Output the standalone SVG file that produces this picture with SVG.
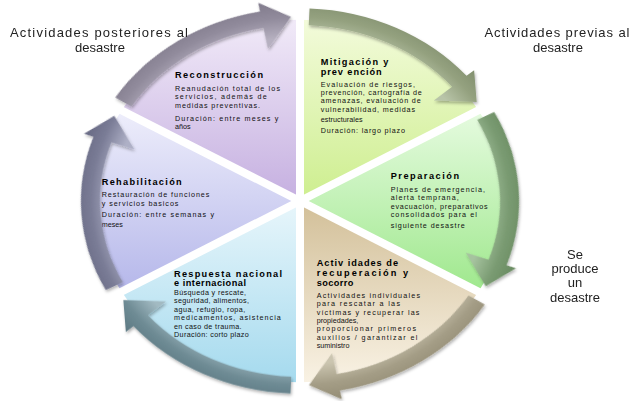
<svg xmlns="http://www.w3.org/2000/svg" xmlns:xlink="http://www.w3.org/1999/xlink" width="634" height="401" viewBox="0 0 634 401">
<style>
.t{font-family:"Liberation Sans",Arial,sans-serif;font-weight:bold;font-size:9.2px;fill:#000}
.b{font-family:"Liberation Sans",Arial,sans-serif;font-size:7.2px;fill:#111}
.o{font-family:"Liberation Sans",Arial,sans-serif;font-size:13px;fill:#222}
.gap{stroke:#fff;stroke-width:8;stroke-linecap:butt}
</style>
<defs>
<linearGradient id="gRecon" x1="0" y1="0" x2="0" y2="1"><stop offset="0" stop-color="#f1eaf8"/><stop offset="1" stop-color="#c5afe0"/></linearGradient>
<linearGradient id="gMit" x1="0" y1="0" x2="0" y2="1"><stop offset="0" stop-color="#f3fbdb"/><stop offset="1" stop-color="#cdee8e"/></linearGradient>
<linearGradient id="gPrep" x1="0" y1="0" x2="0" y2="1"><stop offset="0" stop-color="#e6fbe0"/><stop offset="1" stop-color="#9fe88d"/></linearGradient>
<linearGradient id="gAct" x1="0" y1="0" x2="0" y2="1"><stop offset="0" stop-color="#d2bf98"/><stop offset="1" stop-color="#f9f2e4"/></linearGradient>
<linearGradient id="gResp" x1="0" y1="0" x2="0" y2="1"><stop offset="0" stop-color="#e8f6fb"/><stop offset="1" stop-color="#a5daee"/></linearGradient>
<linearGradient id="gRehab" x1="0" y1="0" x2="0" y2="1"><stop offset="0" stop-color="#eeeefb"/><stop offset="1" stop-color="#b5b7ea"/></linearGradient>
<radialGradient id="rMit" gradientUnits="userSpaceOnUse" cx="0" cy="0" r="232"><stop offset="0.8" stop-color="#b8c4a8"/><stop offset="0.9" stop-color="#94a17f"/><stop offset="1" stop-color="#7f8d6c"/></radialGradient>
<radialGradient id="rPrep" gradientUnits="userSpaceOnUse" cx="0" cy="0" r="232"><stop offset="0.8" stop-color="#a6c39f"/><stop offset="0.9" stop-color="#7a9b72"/><stop offset="1" stop-color="#65875d"/></radialGradient>
<radialGradient id="rAct" gradientUnits="userSpaceOnUse" cx="0" cy="0" r="232"><stop offset="0.8" stop-color="#cbc5b0"/><stop offset="0.9" stop-color="#a49d86"/><stop offset="1" stop-color="#918a72"/></radialGradient>
<radialGradient id="rResp" gradientUnits="userSpaceOnUse" cx="0" cy="0" r="232"><stop offset="0.8" stop-color="#a2bac2"/><stop offset="0.9" stop-color="#6f8c95"/><stop offset="1" stop-color="#5a7680"/></radialGradient>
<radialGradient id="rRehab" gradientUnits="userSpaceOnUse" cx="0" cy="0" r="232"><stop offset="0.8" stop-color="#aeb0c6"/><stop offset="0.9" stop-color="#7a7c96"/><stop offset="1" stop-color="#646680"/></radialGradient>
<radialGradient id="rRecon" gradientUnits="userSpaceOnUse" cx="0" cy="0" r="232"><stop offset="0.8" stop-color="#b6b0c0"/><stop offset="0.9" stop-color="#918b9c"/><stop offset="1" stop-color="#7e7889"/></radialGradient>
<path id="arr" d="M8.72,-199.81 L9.55,-218.79 A219,219 0 0 1 166.53,-142.23 L174.13,-148.72 L176.69,-112.56 L133.83,-114.3 L152.08,-129.89 A200,200 0 0 0 8.72,-199.81 Z"/>
<filter id="sh" x="-10%" y="-10%" width="120%" height="120%"><feDropShadow dx="1" dy="2" stdDeviation="1.5" flood-color="#000" flood-opacity="0.3"/></filter>
</defs>

<g id="reconstruccion">
<path transform="translate(300,201) scale(1,0.88)" d="M0,0 L-178.4,-103 A206,206 0 0 1 0,-206 Z" fill="url(#gRecon)"/>
<text class="t" x="175" y="77.5" textLength="88" lengthAdjust="spacing">Reconstrucción</text>
<text class="b" x="175" y="90.7" textLength="105" lengthAdjust="spacing">Reanudación total de los</text>
<text class="b" x="175" y="99.3" textLength="91.7" lengthAdjust="spacing">servicios, además de</text>
<text class="b" x="175" y="108" textLength="85" lengthAdjust="spacing">medidas preventivas.</text>
<text class="b" x="175" y="120.7" textLength="103.3" lengthAdjust="spacing">Duración: entre meses y</text>
<text class="b" x="175" y="129.3">años</text>
</g>

<g id="mitigacion">
<path transform="translate(300,201) scale(1,0.88)" d="M0,0 L0,-206 A206,206 0 0 1 178.4,-103 Z" fill="url(#gMit)"/>
<text class="t" x="320.7" y="64.5" textLength="67.7" lengthAdjust="spacing">Mitigación y</text>
<text class="t" x="320.7" y="74.5" textLength="61" lengthAdjust="spacing">prev ención</text>
<text class="b" x="320.7" y="86.7" textLength="94.3" lengthAdjust="spacing">Evaluación de riesgos,</text>
<text class="b" x="320.7" y="95" textLength="101" lengthAdjust="spacing">prevención, cartografía de</text>
<text class="b" x="320.7" y="103.3" textLength="100" lengthAdjust="spacing">amenazas, evaluación de</text>
<text class="b" x="320.7" y="111.7" textLength="94.3" lengthAdjust="spacing">vulnerabilidad, medidas</text>
<text class="b" x="320.7" y="122.3" textLength="42" lengthAdjust="spacing">estructurales</text>
<text class="b" x="320.7" y="132.7" textLength="84.3" lengthAdjust="spacing">Duración: largo plazo</text>
</g>

<g id="preparacion">
<path transform="translate(300,201) scale(1,0.88)" d="M0,0 L178.4,-103 A206,206 0 0 1 178.4,103 Z" fill="url(#gPrep)"/>
<text class="t" x="390.7" y="179.3" textLength="68.3" lengthAdjust="spacing">Preparación</text>
<text class="b" x="390.7" y="192" textLength="94.3" lengthAdjust="spacing">Planes de emergencia,</text>
<text class="b" x="390.7" y="200.3" textLength="68" lengthAdjust="spacing">alerta temprana,</text>
<text class="b" x="390.7" y="208.6" textLength="97" lengthAdjust="spacing">evacuación, preparativos</text>
<text class="b" x="390.7" y="216.9" textLength="86.2" lengthAdjust="spacing">consolidados para el</text>
<text class="b" x="390.7" y="227.5" textLength="74" lengthAdjust="spacing">siguiente desastre</text>
</g>

<g id="recuperacion">
<path transform="translate(300,201) scale(1,0.88)" d="M0,0 L178.4,103 A206,206 0 0 1 0,206 Z" fill="url(#gAct)"/>
<text class="t" x="316.7" y="265.7" textLength="81.3" lengthAdjust="spacing">Activ idades de</text>
<text class="t" x="316.7" y="275.7" textLength="91.3" lengthAdjust="spacing">recuperación y</text>
<text class="t" x="316.7" y="285.7" textLength="36.7" lengthAdjust="spacing">socorro</text>
<text class="b" x="316.7" y="298" textLength="103.3" lengthAdjust="spacing">Actividades individuales</text>
<text class="b" x="316.7" y="306.3" textLength="83.3" lengthAdjust="spacing">para rescatar a las</text>
<text class="b" x="316.7" y="314.6" textLength="102.7" lengthAdjust="spacing">víctimas y recuperar las</text>
<text class="b" x="316.7" y="322.9">propiedades,</text>
<text class="b" x="316.7" y="331.2" textLength="99.3" lengthAdjust="spacing">proporcionar primeros</text>
<text class="b" x="316.7" y="339.5" textLength="100.7" lengthAdjust="spacing">auxilios / garantizar el</text>
<text class="b" x="316.7" y="347.8">suministro</text>
</g>

<g id="respuesta">
<path transform="translate(300,201) scale(1,0.88)" d="M0,0 L0,206 A206,206 0 0 1 -178.4,103 Z" fill="url(#gResp)"/>
<text class="t" x="174" y="276.5" textLength="108" lengthAdjust="spacing">Respuesta nacional</text>
<text class="t" x="174" y="286" textLength="72" lengthAdjust="spacing">e internacional</text>
<text class="b" x="174" y="295" textLength="72" lengthAdjust="spacing">Búsqueda y rescate,</text>
<text class="b" x="174" y="303.3" textLength="75" lengthAdjust="spacing">seguridad, alimentos,</text>
<text class="b" x="174" y="311.6" textLength="71.3" lengthAdjust="spacing">agua, refugio, ropa,</text>
<text class="b" x="174" y="320" textLength="106.8" lengthAdjust="spacing">medicamentos, asistencia</text>
<text class="b" x="174" y="328.5" textLength="67.6" lengthAdjust="spacing">en caso de trauma.</text>
<text class="b" x="174" y="337" textLength="74.8" lengthAdjust="spacing">Duración: corto plazo</text>
</g>

<g id="rehabilitacion">
<path transform="translate(300,201) scale(1,0.88)" d="M0,0 L-178.4,103 A206,206 0 0 1 -178.4,-103 Z" fill="url(#gRehab)"/>
<text class="t" x="101.7" y="185" textLength="80" lengthAdjust="spacing">Rehabilitación</text>
<text class="b" x="101.7" y="196.7" textLength="107.7" lengthAdjust="spacing">Restauración de funciones</text>
<text class="b" x="101.7" y="205.7" textLength="76.7" lengthAdjust="spacing">y servicios basicos</text>
<text class="b" x="101.7" y="217.3" textLength="112.3" lengthAdjust="spacing">Duración: entre semanas y</text>
<text class="b" x="101.7" y="226.7">meses</text>
</g>

<g id="gaps">
<line class="gap" x1="300" y1="201" x2="300" y2="-15"/>
<line class="gap" x1="300" y1="201" x2="512.2" y2="93.2"/>
<line class="gap" x1="300" y1="201" x2="512.2" y2="308.8"/>
<line class="gap" x1="300" y1="201" x2="300" y2="417"/>
<line class="gap" x1="300" y1="201" x2="87.8" y2="308.8"/>
<line class="gap" x1="300" y1="201" x2="87.8" y2="93.2"/>
</g>

<g id="connectors" filter="url(#sh)">
<g transform="translate(300,201) scale(1,0.88)">
<use xlink:href="#arr" href="#arr" fill="url(#rMit)"/>
<use xlink:href="#arr" href="#arr" transform="rotate(60)" fill="url(#rPrep)"/>
<use xlink:href="#arr" href="#arr" transform="rotate(120)" fill="url(#rAct)"/>
<use xlink:href="#arr" href="#arr" transform="rotate(180)" fill="url(#rResp)"/>
<use xlink:href="#arr" href="#arr" transform="rotate(240)" fill="url(#rRehab)"/>
<use xlink:href="#arr" href="#arr" transform="rotate(300)" fill="url(#rRecon)"/>
</g>
</g>

<g id="labels">
<text class="o" x="10" y="37" textLength="178" lengthAdjust="spacing">Actividades posteriores al</text>
<text class="o" x="100" y="51.5" text-anchor="middle">desastre</text>
<text class="o" x="484.5" y="37" textLength="145" lengthAdjust="spacing">Actividades previas al</text>
<text class="o" x="558" y="51.5" text-anchor="middle">desastre</text>
<text class="o" x="575" y="259" text-anchor="middle">Se</text>
<text class="o" x="575" y="273" text-anchor="middle">produce</text>
<text class="o" x="575" y="287" text-anchor="middle">un</text>
<text class="o" x="575" y="302" text-anchor="middle">desastre</text>
</g>
</svg>
